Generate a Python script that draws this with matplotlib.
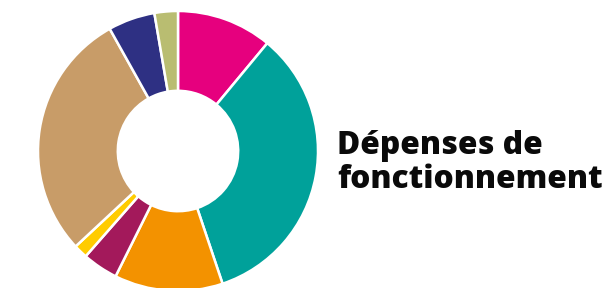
import matplotlib
matplotlib.use("Agg")
import matplotlib.pyplot as plt

# Share of each spending item (percent), clockwise from 12 o'clock
shares = [11.0, 33.8, 12.5, 4.1, 1.6, 28.8, 5.4, 2.7]
colors = ["#E6007E", "#00A19A", "#F39200", "#A3195B",
          "#FFCC00", "#C89C68", "#2E3083", "#B9BD71"]
title_lines = ["Dépenses de", "fonctionnement"]

W, H = 611, 288
fig = plt.figure(figsize=(W / 100, H / 100), dpi=100)

cx, cy, r = 178, 151, 140
ax = fig.add_axes([(cx - r) / W, (H - cy - r) / H, 2 * r / W, 2 * r / H])
ax.pie(shares, colors=colors, startangle=90, counterclock=False, radius=1,
       wedgeprops=dict(width=0.57, edgecolor="white", linewidth=1.8))
ax.set_xlim(-1, 1)
ax.set_ylim(-1, 1)
ax.set_aspect("equal")
ax.axis("off")

fig.text(337 / W, 1 - 154 / H, title_lines[0], fontsize=22.8, fontweight="heavy",
         family="Open Sans", va="baseline", ha="left", color="#0a0a0a")
fig.text(337 / W, 1 - 188 / H, title_lines[1], fontsize=22.8, fontweight="heavy",
         family="Open Sans", va="baseline", ha="left", color="#0a0a0a")

fig.savefig("out.png", dpi=100)
